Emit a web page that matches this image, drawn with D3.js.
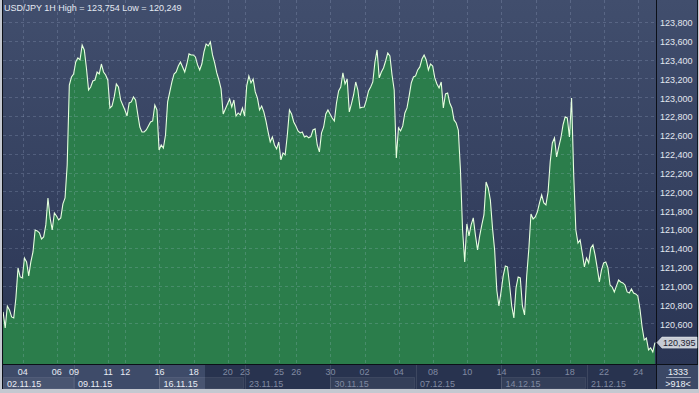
<!DOCTYPE html>
<html>
<head>
<meta charset="utf-8">
<script src="https://cdn.jsdelivr.net/npm/d3@7"></script>
<style>
  html, body { margin: 0; padding: 0; background: #c4c8d0; }
  svg { display: block; font-family: "Liberation Sans", Arial, sans-serif; }
</style>
</head>
<body>
<div id="chart"></div>
<script>
// --- data ---
const symbol = "USD/JPY", period = "1H";
const highStat = 123754, lowStat = 120249;
const firstDay = "2015-11-02", firstHour = 19;   // time of bar 0
const visibleBars = 918, totalBars = 1333;
const hoursPerSample = 3;
const lastPrice = 120395;
const highlightEnd = "2015-11-18 16";           // lighter part of the time axis

// close price, one value per 3 hourly bars
const prices = [
  120721,120551,120784,120742,120668,120657,120869,121188,121092,121082,
  121294,121252,121103,121252,121358,121591,121581,121560,121496,121517,
  121645,121931,121719,121591,121772,121740,121698,121719,121868,121931,
  122282,123131,123216,123248,123376,123418,123397,123556,123503,123312,
  123078,123110,123174,123184,123269,123248,123354,123269,123237,123184,
  122887,122908,123004,123142,123110,122972,122919,122866,122802,122940,
  122951,123004,122972,122823,122685,122632,122632,122653,122696,122738,
  122749,122919,122866,122441,122494,122462,122600,122951,123057,123163,
  123248,123269,123333,123376,123323,123269,123354,123461,123450,123450,
  123429,123344,123291,123354,123482,123567,123546,123588,123450,123365,
  123259,123184,123089,122823,122876,122930,122983,122898,122972,122802,
  122834,122813,122887,122802,123121,123227,123153,123195,123057,122993,
  122866,122908,122845,122749,122632,122526,122579,122494,122452,122526,
  122335,122409,122388,122600,122866,122823,122738,122696,122643,122622,
  122632,122579,122590,122570,122583,122653,122665,122494,122420,122622,
  122685,122823,122866,122823,122781,122749,122940,123068,123110,123259,
  123142,123195,122845,122930,123025,123163,123078,122887,122895,122898,
  122972,123068,123110,123163,123376,123503,123206,123269,123312,123386,
  123471,123439,123237,123078,122356,122675,122643,122696,122834,122887,
  123015,123153,123216,123227,123291,123323,123407,123450,123397,123291,
  123354,123333,123206,123142,123099,123163,122887,123036,123046,122940,
  122887,122760,122728,122653,122229,121591,121252,121655,121528,121645,
  121719,121538,121379,121528,121645,121751,122101,122037,121910,121613,
  121379,120954,120784,120933,121103,121209,121200,121007,120784,120657,
  120975,121092,121082,120784,120689,121103,121390,121761,121708,121730,
  121783,121878,121963,121878,121857,121995,122314,122515,122568,122367,
  122473,122568,122707,122792,122781,122579,122993,122176,121591,121453,
  121485,121347,121199,121294,121241,121400,121432,121326,121188,121039,
  121167,121241,121252,121188,121007,120986,120933,120997,121060,121039,
  121029,121007,120933,120922,120965,120922,120912,120891,120752,120561,
  120423,120444,120317,120338,120295,120395
];

const yTicks = [120600,120800,121000,121200,121400,121600,121800,122000,122200,
                122400,122600,122800,123000,123200,123400,123600,123800];

const dayTicks = ["2015-11-04","2015-11-06","2015-11-09","2015-11-11","2015-11-12",
                  "2015-11-16","2015-11-18","2015-11-20","2015-11-23","2015-11-25",
                  "2015-11-26","2015-11-30","2015-12-02","2015-12-04","2015-12-08",
                  "2015-12-10","2015-12-14","2015-12-16","2015-12-18","2015-12-22",
                  "2015-12-24"];

const weekStarts = ["2015-11-02","2015-11-09","2015-11-16","2015-11-23",
                    "2015-11-30","2015-12-07","2015-12-14","2015-12-21"];

// --- layout ---
const width = 699, height = 393;
const plot = {left: 3, right: 656, top: 0, bottom: 364};
const axisBottom = 389, row1 = 371.5, row2 = 383.5;

const parseDay = d3.utcParse("%Y-%m-%d");
const fmtDay = d3.utcFormat("%d");
const fmtWeek = d3.utcFormat("%d.%m.%y");

// bar index of a calendar date (weekends carry no bars)
const t0 = parseDay(firstDay);
function barOf(dayStr, hour = 0) {
  const d = parseDay(dayStr);
  const n = d3.utcDays(t0, d).filter(x => x.getUTCDay() % 6 !== 0).length;
  return n * 24 + hour - firstHour;
}

const series = prices.map((p, k) => ({bar: k * hoursPerSample + 1.5, price: p}));

const x = d3.scaleLinear().domain([0, visibleBars]).range([2, plot.right]);
const y = d3.scaleLinear().domain([120600, 123800]).range([323.3, 22]);

const hlBar = barOf(highlightEnd.slice(0, 10), +highlightEnd.slice(11));
const hlX = x(hlBar);

const svg = d3.select("#chart").append("svg")
  .attr("width", width).attr("height", height);

const defs = svg.append("defs");
const grad = defs.append("linearGradient").attr("id", "bg")
  .attr("x1", 0).attr("y1", 0).attr("x2", 0).attr("y2", 1);
grad.append("stop").attr("offset", 0).attr("stop-color", "#414e6d");
grad.append("stop").attr("offset", 1).attr("stop-color", "#2a3554");
defs.append("clipPath").attr("id", "clip").append("rect")
  .attr("x", plot.left).attr("y", plot.top)
  .attr("width", plot.right - plot.left).attr("height", plot.bottom - plot.top);

// frame + panels
svg.append("rect").attr("x", 0).attr("y", 0).attr("width", width).attr("height", height).attr("fill", "#c4c8d0");
svg.append("rect").attr("x", 2).attr("y", 0).attr("width", 696).attr("height", axisBottom).attr("fill", "#111722");
svg.append("rect").attr("x", plot.left).attr("y", 0).attr("width", 694).attr("height", plot.bottom)
  .attr("fill", "url(#bg)");

// area + line
const g = svg.append("g").attr("clip-path", "url(#clip)");
g.append("path").datum(series)
  .attr("fill", "#2b7d4b")
  .attr("d", d3.area().x(d => x(d.bar)).y0(plot.bottom).y1(d => y(d.price)));

// grid
const grid = svg.append("g").attr("stroke", "rgba(190,205,235,0.2)")
  .attr("stroke-dasharray", "3,3").attr("shape-rendering", "crispEdges");
grid.selectAll(".h").data(yTicks).join("line")
  .attr("x1", plot.left).attr("x2", plot.right)
  .attr("y1", d => Math.round(y(d)) + 0.5).attr("y2", d => Math.round(y(d)) + 0.5);
grid.selectAll(".v").data(dayTicks).join("line")
  .attr("x1", d => Math.round(x(barOf(d))) + 0.5).attr("x2", d => Math.round(x(barOf(d))) + 0.5)
  .attr("y1", plot.top).attr("y2", plot.bottom);

g.append("path").datum(series)
  .attr("fill", "none").attr("stroke", "#e6ffdf").attr("stroke-width", 1.1)
  .attr("d", d3.line().x(d => x(d.bar)).y(d => y(d.price)));

// title
svg.append("text").attr("x", 4).attr("y", 11)
  .attr("fill", "#e4e9f2").style("font-size", "9px")
  .text(`${symbol} ${period} High = ${d3.format(",")(highStat)} Low = ${d3.format(",")(lowStat)}`);

// right price axis
const yAxis = svg.append("g").attr("transform", `translate(${plot.right + 1},0)`)
  .call(d3.axisRight(y).tickValues(yTicks).tickFormat(d3.format(",")).tickSize(0).tickPadding(3));
yAxis.select(".domain").remove();
yAxis.selectAll("text").attr("fill", "#e2e7f0").style("font-size", "9px")
  .attr("font-family", "Liberation Sans, Arial, sans-serif").attr("dy", "0.42em");

// time axis background
const tb = svg.append("g");
tb.append("rect").attr("x", plot.left).attr("y", plot.bottom + 1)
  .attr("width", plot.right - plot.left).attr("height", axisBottom - plot.bottom - 1).attr("fill", "#28334f");
tb.append("rect").attr("x", plot.left).attr("y", plot.bottom + 1)
  .attr("width", hlX - plot.left).attr("height", axisBottom - plot.bottom - 1).attr("fill", "#3e4b69");

const weeks = weekStarts.map((w, i) => {
  const x0 = Math.max(plot.left, x(barOf(w)));
  const x1 = i < weekStarts.length - 1 ? x(barOf(weekStarts[i + 1])) : plot.right;
  return {label: fmtWeek(parseDay(w)), x0, x1, i};
});
tb.selectAll(".wbox").data(weeks.filter(w => w.i % 2 === 0)).join("rect")
  .attr("x", d => Math.round(d.x0) + 0.5).attr("y", 377.5)
  .attr("width", d => Math.round(d.x1 - d.x0) - 1).attr("height", 11)
  .attr("fill", "rgba(255,255,255,0.06)").attr("stroke", "rgba(255,255,255,0.08)");
tb.selectAll(".wsep").data(weeks.slice(1)).join("line")
  .attr("x1", d => Math.round(d.x0) + 0.5).attr("x2", d => Math.round(d.x0) + 0.5)
  .attr("y1", plot.bottom + 1).attr("y2", axisBottom)
  .attr("stroke", "rgba(255,255,255,0.1)");

const txtCol = px => px < hlX ? "#e8ecf4" : "#808aa2";
tb.selectAll(".day").data(dayTicks).join("text")
  .attr("x", d => x(barOf(d))).attr("y", row1).attr("dy", "0.35em")
  .attr("text-anchor", "middle").style("font-size", "9px")
  .attr("fill", d => txtCol(x(barOf(d))))
  .text(d => fmtDay(parseDay(d)));
tb.selectAll(".wk").data(weeks).join("text")
  .attr("x", d => d.x0 + 4).attr("y", row2).attr("dy", "0.35em")
  .style("font-size", "9px").attr("fill", d => txtCol(d.x0 + 4))
  .text(d => d.label);

// separators
const sep = svg.append("g").attr("stroke", "#0c1018").attr("shape-rendering", "crispEdges");
sep.append("line").attr("x1", 2).attr("x2", 698).attr("y1", plot.bottom + 0.5).attr("y2", plot.bottom + 0.5);
sep.append("line").attr("x1", plot.right + 0.5).attr("x2", plot.right + 0.5).attr("y1", 0).attr("y2", axisBottom);
sep.append("line").attr("x1", 2.5).attr("x2", 2.5).attr("y1", 0).attr("y2", axisBottom);

// bar counter corner
svg.append("rect").attr("x", plot.right + 1).attr("y", plot.bottom + 1)
  .attr("width", 41).attr("height", axisBottom - plot.bottom - 1).attr("fill", "#3b4866");
svg.append("text").attr("x", 678).attr("y", row1).attr("dy", "0.35em").attr("text-anchor", "middle")
  .style("font-size", "9px").attr("fill", "#eef1f6").text(totalBars);
svg.append("line").attr("x1", 666).attr("x2", 691).attr("y1", 377.5).attr("y2", 377.5).attr("stroke", "#9aa4b8");
svg.append("text").attr("x", 678).attr("y", row2).attr("dy", "0.35em").attr("text-anchor", "middle")
  .style("font-size", "9px").attr("fill", "#eef1f6").text(`>${visibleBars}<`);

// last price tag
const yp = y(lastPrice);
svg.append("path")
  .attr("d", `M${plot.right + 1},${yp} L${plot.right + 6},${yp - 5.5} L697,${yp - 5.5} L697,${yp + 5.5} L${plot.right + 6},${yp + 5.5} Z`)
  .attr("fill", "#c6cbd4").attr("stroke", "#e6e9ee").attr("stroke-width", 0.6);
svg.append("text").attr("x", plot.right + 7).attr("y", yp).attr("dy", "0.36em")
  .style("font-size", "9px").attr("fill", "#1c2230").text(d3.format(",")(lastPrice));
</script>
</body>
</html>
